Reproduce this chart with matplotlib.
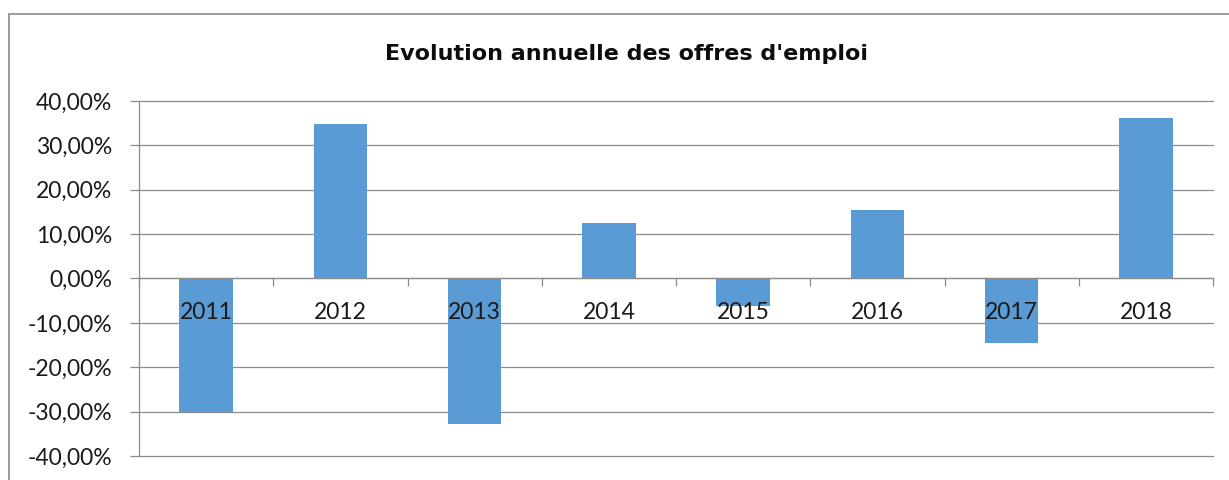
import numpy as np
import matplotlib
matplotlib.use('Agg')
from matplotlib import pyplot as plt
from matplotlib.patches import Rectangle
from matplotlib.ticker import FuncFormatter
from matplotlib.transforms import offset_copy

# annual change in job offers (%)
years = ['2011', '2012', '2013', '2014', '2015', '2016', '2017', '2018']
evolution = [-30.1, 34.8, -32.7, 12.5, -6.2, 15.4, -14.6, 36.2]
yticks = [-40, -30, -20, -10, 0, 10, 20, 30, 40]

bar_color = '#5B9BD5'
grid_color = '#8c8c8c'
label_font = 'Lato'

fig = plt.figure(figsize=(12.29, 4.80), dpi=100)
ax = fig.add_axes([139/1229, 1 - 456/480, (1213 - 139)/1229, (456 - 101)/480])

x = np.arange(len(years))
ax.bar(x, evolution, width=0.4, color=bar_color, zorder=2)

ax.set_xlim(-0.5, len(years) - 0.5)
ax.set_ylim(-40, 40)

# y axis: gridlines and percentage labels
ax.set_yticks(yticks)
ax.yaxis.set_major_formatter(FuncFormatter(lambda v, p: ('%.2f%%' % v).replace('.', ',')))
ax.grid(axis='y', color=grid_color, linewidth=0.9, zorder=1)
for gl in ax.get_ygridlines():
    gl.set_clip_on(False)
ax.tick_params(axis='y', length=6.5, width=0.9, color=grid_color, pad=13,
               labelsize=16.5, labelcolor='#1a1a1a')
for lab in ax.get_yticklabels():
    lab.set_fontfamily(label_font)

# x axis sits at zero, ticks between categories
ax.spines['bottom'].set_position(('data', 0))
ax.spines['bottom'].set_color(grid_color)
ax.spines['bottom'].set_linewidth(0.9)
ax.spines['left'].set_color(grid_color)
ax.spines['left'].set_linewidth(0.9)
ax.spines['top'].set_visible(False)
ax.spines['right'].set_visible(False)

ax.set_xticks(np.arange(len(years) + 1) - 0.5)
ax.set_xticklabels([])
ax.tick_params(axis='x', which='major', length=6, width=0.9, color=grid_color)

# year labels drawn over the bars, just under the zero line
lab_tr = offset_copy(ax.transData, fig=fig, x=0, y=-24, units='dots')
for xi, yr in zip(x, years):
    ax.text(xi, 0, yr, transform=lab_tr, ha='center', va='top', fontsize=16.5,
            color='#1a1a1a', family=label_font, zorder=4)

# chart border and title
fig.patches.append(Rectangle((9/1229, -0.1), 1.1, 1.1 - 14/480, transform=fig.transFigure,
                             fill=False, edgecolor='#8a8a8a', linewidth=1.2))
fig.text(0.510, 1 - 54/480, "Evolution annuelle des offres d'emploi", ha='center', va='center',
         fontsize=16, fontweight='bold', color='#0d0d0d', family='DejaVu Sans')

fig.savefig('out.png', dpi=100)
